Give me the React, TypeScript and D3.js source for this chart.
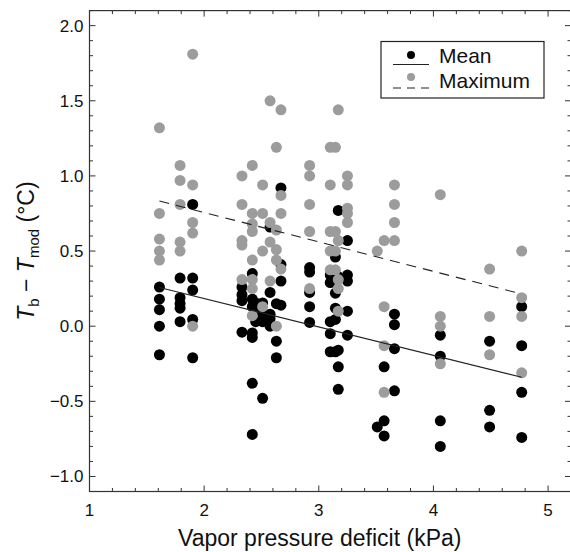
import React from "react";
import * as d3 from "d3";

// Mean (black) points: [vpd, Tb - Tmod]
const meanX = [
  1.61, 1.61, 1.61, 1.61, 1.61,
  1.79, 1.79, 1.79, 1.79, 1.79,
  1.90, 1.90, 1.90, 1.90, 1.90,
  2.33, 2.33, 2.33, 2.33,
  2.42, 2.42, 2.42, 2.42, 2.42, 2.42, 2.42,
  2.45, 2.45, 2.45,
  2.51, 2.51, 2.51, 2.51,
  2.575, 2.575, 2.575, 2.575, 2.575,
  2.63, 2.63, 2.63,
  2.67, 2.67, 2.67, 2.67,
  2.92, 2.92, 2.92, 2.92, 2.92,
  3.10, 3.10, 3.10, 3.10, 3.10,
  3.145, 3.145, 3.145, 3.145, 3.145,
  3.17, 3.17, 3.17, 3.17, 3.17,
  3.25, 3.25, 3.25, 3.25, 3.25,
  3.51,
  3.57, 3.57, 3.57,
  3.66, 3.66, 3.66, 3.66,
  4.06, 4.06, 4.06, 4.06,
  4.49, 4.49, 4.49,
  4.77, 4.77, 4.77, 4.77,
];
const meanY = [
  0.26, 0.18, 0.11, 0.0, -0.19,
  0.32, 0.19, 0.15, 0.12, 0.03,
  0.81, 0.32, 0.24, 0.045, -0.21,
  0.26, 0.21, 0.17, -0.04,
  0.35, 0.18, 0.13, -0.045, -0.38, -0.72, -0.075,
  0.155, 0.11, 0.03,
  0.155, 0.08, 0.03, -0.48,
  0.66, 0.225, 0.08, 0.05, 0.0,
  0.15, -0.10, -0.21,
  0.92, 0.41, 0.30, 0.14,
  0.39, 0.36, 0.225, 0.13, 0.025,
  0.34, 0.29, 0.03, -0.05, -0.17,
  0.46, 0.22, 0.12, 0.045, -0.17,
  0.77, 0.33, -0.16, -0.27, -0.42,
  0.57, 0.34, 0.30, 0.10, -0.06,
  -0.67,
  -0.27, -0.63, -0.73,
  0.08, 0.01, -0.15, -0.43,
  -0.06, -0.20, -0.63, -0.80,
  -0.10, -0.56, -0.67,
  0.13, -0.13, -0.44, -0.74,
];

// Maximum (gray) points
const maxX = [
  1.61, 1.61, 1.61, 1.61, 1.61,
  1.79, 1.79, 1.79, 1.79, 1.79,
  1.90, 1.90, 1.90, 1.90, 1.90,
  2.33, 2.33, 2.33, 2.33, 2.33,
  2.42, 2.42, 2.42, 2.42, 2.42, 2.42, 2.42, 2.42,
  2.51, 2.51, 2.51, 2.51,
  2.575, 2.575, 2.575, 2.575,
  2.63, 2.63, 2.63, 2.63, 2.63,
  2.67, 2.67, 2.67, 2.67,
  2.92, 2.92, 2.92, 2.92, 2.92,
  3.10, 3.10, 3.10, 3.10, 3.10,
  3.145, 3.145, 3.145, 3.145,
  3.17, 3.17, 3.17, 3.17, 3.17,
  3.25, 3.25, 3.25, 3.25, 3.25,
  3.51,
  3.57, 3.57, 3.57, 3.57,
  3.66, 3.66, 3.66, 3.66,
  4.06, 4.06, 4.06, 4.06,
  4.49, 4.49, 4.49,
  4.77, 4.77, 4.77, 4.77,
];
const maxY = [
  1.32, 0.75, 0.58, 0.50, 0.44,
  1.07, 0.97, 0.81, 0.56, 0.50,
  1.81, 0.94, 0.69, 0.62, 0.0,
  1.00, 0.81, 0.57, 0.54, 0.31,
  1.07, 0.75, 0.68, 0.63, 0.44, 0.31, 0.25, 0.07,
  0.94, 0.75, 0.50, 0.13,
  1.50, 0.69, 0.56, 0.30,
  1.19, 0.64, 0.51, 0.44, 0.0,
  1.44, 0.87, 0.75, 0.38,
  1.07, 1.00, 0.81, 0.63, 0.25,
  1.19, 0.94, 0.63, 0.50, 0.375,
  1.19, 0.63, 0.50, 0.375,
  1.44, 0.57, 0.31, 0.25, 0.10,
  1.00, 0.94, 0.785, 0.75, 0.69,
  0.50,
  0.57, 0.13, -0.13, -0.44,
  0.94, 0.81, 0.69, 0.57,
  0.875, 0.065, 0.0, -0.25,
  0.38, 0.065, -0.19,
  0.50, 0.19, 0.065, -0.31,
];

// Regression line end points
const fitX = [1.61, 4.77];
const fitMean = [0.258, -0.34];
const fitMax = [0.833, 0.214];

const xTicks = [1, 2, 3, 4, 5];
const yTicks = [-1.0, -0.5, 0.0, 0.5, 1.0, 1.5, 2.0];

const W = 570;
const H = 552;
const L = 89.5;
const R = 571;
const T = 10.6;
const B = 491.5;
const FONT = "'Liberation Sans', Arial, Helvetica, sans-serif";
const AXIS = "#333";

export default function App() {
  const x = d3.scaleLinear().domain([1, 5.2]).range([L, R]);
  const y = d3.scaleLinear().domain([-1.1, 2.1]).range([B, T]);

  const xMinor = d3.range(1, 5.2001, 0.2).filter((v) => Math.abs(v - Math.round(v)) > 1e-6);
  const yMinor = d3.range(-1.1, 2.1001, 0.1).filter((v) => Math.abs(v * 2 - Math.round(v * 2)) > 1e-6);

  const line = d3
    .line<number>()
    .x((_, i) => x(fitX[i]))
    .y((d) => y(d));

  const maj = 6;
  const min = 3.5;

  return (
    <svg
      width={W}
      height={H}
      style={{ position: "absolute", left: 0, top: 0, background: "#fff", overflow: "hidden" }}
      fontFamily={FONT}
    >
      <rect x={0} y={0} width={W} height={H} fill="#fff" />
      {/* data */}
      {meanX.map((v, i) => (
        <circle key={"m" + i} cx={x(v)} cy={y(meanY[i])} r={5.5} fill="#000" />
      ))}
      {maxX.map((v, i) => (
        <circle key={"x" + i} cx={x(v)} cy={y(maxY[i])} r={5.5} fill="#9c9c9c" />
      ))}
      <path d={line(fitMean) || ""} fill="none" stroke="#222" strokeWidth={1.1} />
      <path d={line(fitMax) || ""} fill="none" stroke="#222" strokeWidth={1.1} strokeDasharray="10,7" />

      {/* frame */}
      <rect x={L} y={T} width={R - L} height={B - T} fill="none" stroke={AXIS} strokeWidth={1.2} />
      {xTicks.map((v) => (
        <g key={"xt" + v}>
          <line x1={x(v)} x2={x(v)} y1={B} y2={B - maj} stroke={AXIS} />
          <line x1={x(v)} x2={x(v)} y1={T} y2={T + maj} stroke={AXIS} />
          <text x={x(v)} y={B + 24} fontSize={17} textAnchor="middle" fill="#111">
            {d3.format("d")(v)}
          </text>
        </g>
      ))}
      {xMinor.map((v, i) => (
        <g key={"xm" + i}>
          <line x1={x(v)} x2={x(v)} y1={B} y2={B - min} stroke={AXIS} />
          <line x1={x(v)} x2={x(v)} y1={T} y2={T + min} stroke={AXIS} />
        </g>
      ))}
      {yTicks.map((v) => (
        <g key={"yt" + v}>
          <line x1={L} x2={L + maj} y1={y(v)} y2={y(v)} stroke={AXIS} />
          <line x1={R} x2={R - maj} y1={y(v)} y2={y(v)} stroke={AXIS} />
          <text x={L - 6} y={y(v) + 6} fontSize={17} textAnchor="end" fill="#111">
            {d3.format(".1f")(v).replace("-", "\u2212")}
          </text>
        </g>
      ))}
      {yMinor.map((v, i) => (
        <g key={"ym" + i}>
          <line x1={L} x2={L + min} y1={y(v)} y2={y(v)} stroke={AXIS} />
          <line x1={R} x2={R - min} y1={y(v)} y2={y(v)} stroke={AXIS} />
        </g>
      ))}

      {/* axis titles */}
      <text x={(L + 548) / 2 + 1} y={546} fontSize={23} textAnchor="middle" fill="#111">
        Vapor pressure deficit (kPa)
      </text>
      <text
        transform={`translate(34,${(T + B) / 2}) rotate(-90)`}
        fontSize={23}
        textAnchor="middle"
        fill="#111"
      >
        <tspan fontStyle="italic">T</tspan>
        <tspan fontSize={15} dy={5}>b</tspan>
        <tspan dy={-5}>{" \u2212 "}</tspan>
        <tspan fontStyle="italic">T</tspan>
        <tspan fontSize={15} dy={5}>mod</tspan>
        <tspan dy={-5}>{" (\u00B0C)"}</tspan>
      </text>

      {/* legend */}
      <rect x={381} y={41.5} width={163} height={56.5} fill="#fff" stroke="#222" strokeWidth={1.2} />
      <line x1={393} x2={429} y1={64.5} y2={64.5} stroke="#222" strokeWidth={1.1} />
      <circle cx={411} cy={55} r={4} fill="#000" />
      <text x={439} y={63} fontSize={21} fill="#111">Mean</text>
      <line x1={393} x2={431} y1={88} y2={88} stroke="#222" strokeWidth={1.1} strokeDasharray="8,6" />
      <circle cx={411} cy={77} r={4} fill="#9c9c9c" />
      <text x={439} y={88} fontSize={21} fill="#111">Maximum</text>
    </svg>
  );
}
